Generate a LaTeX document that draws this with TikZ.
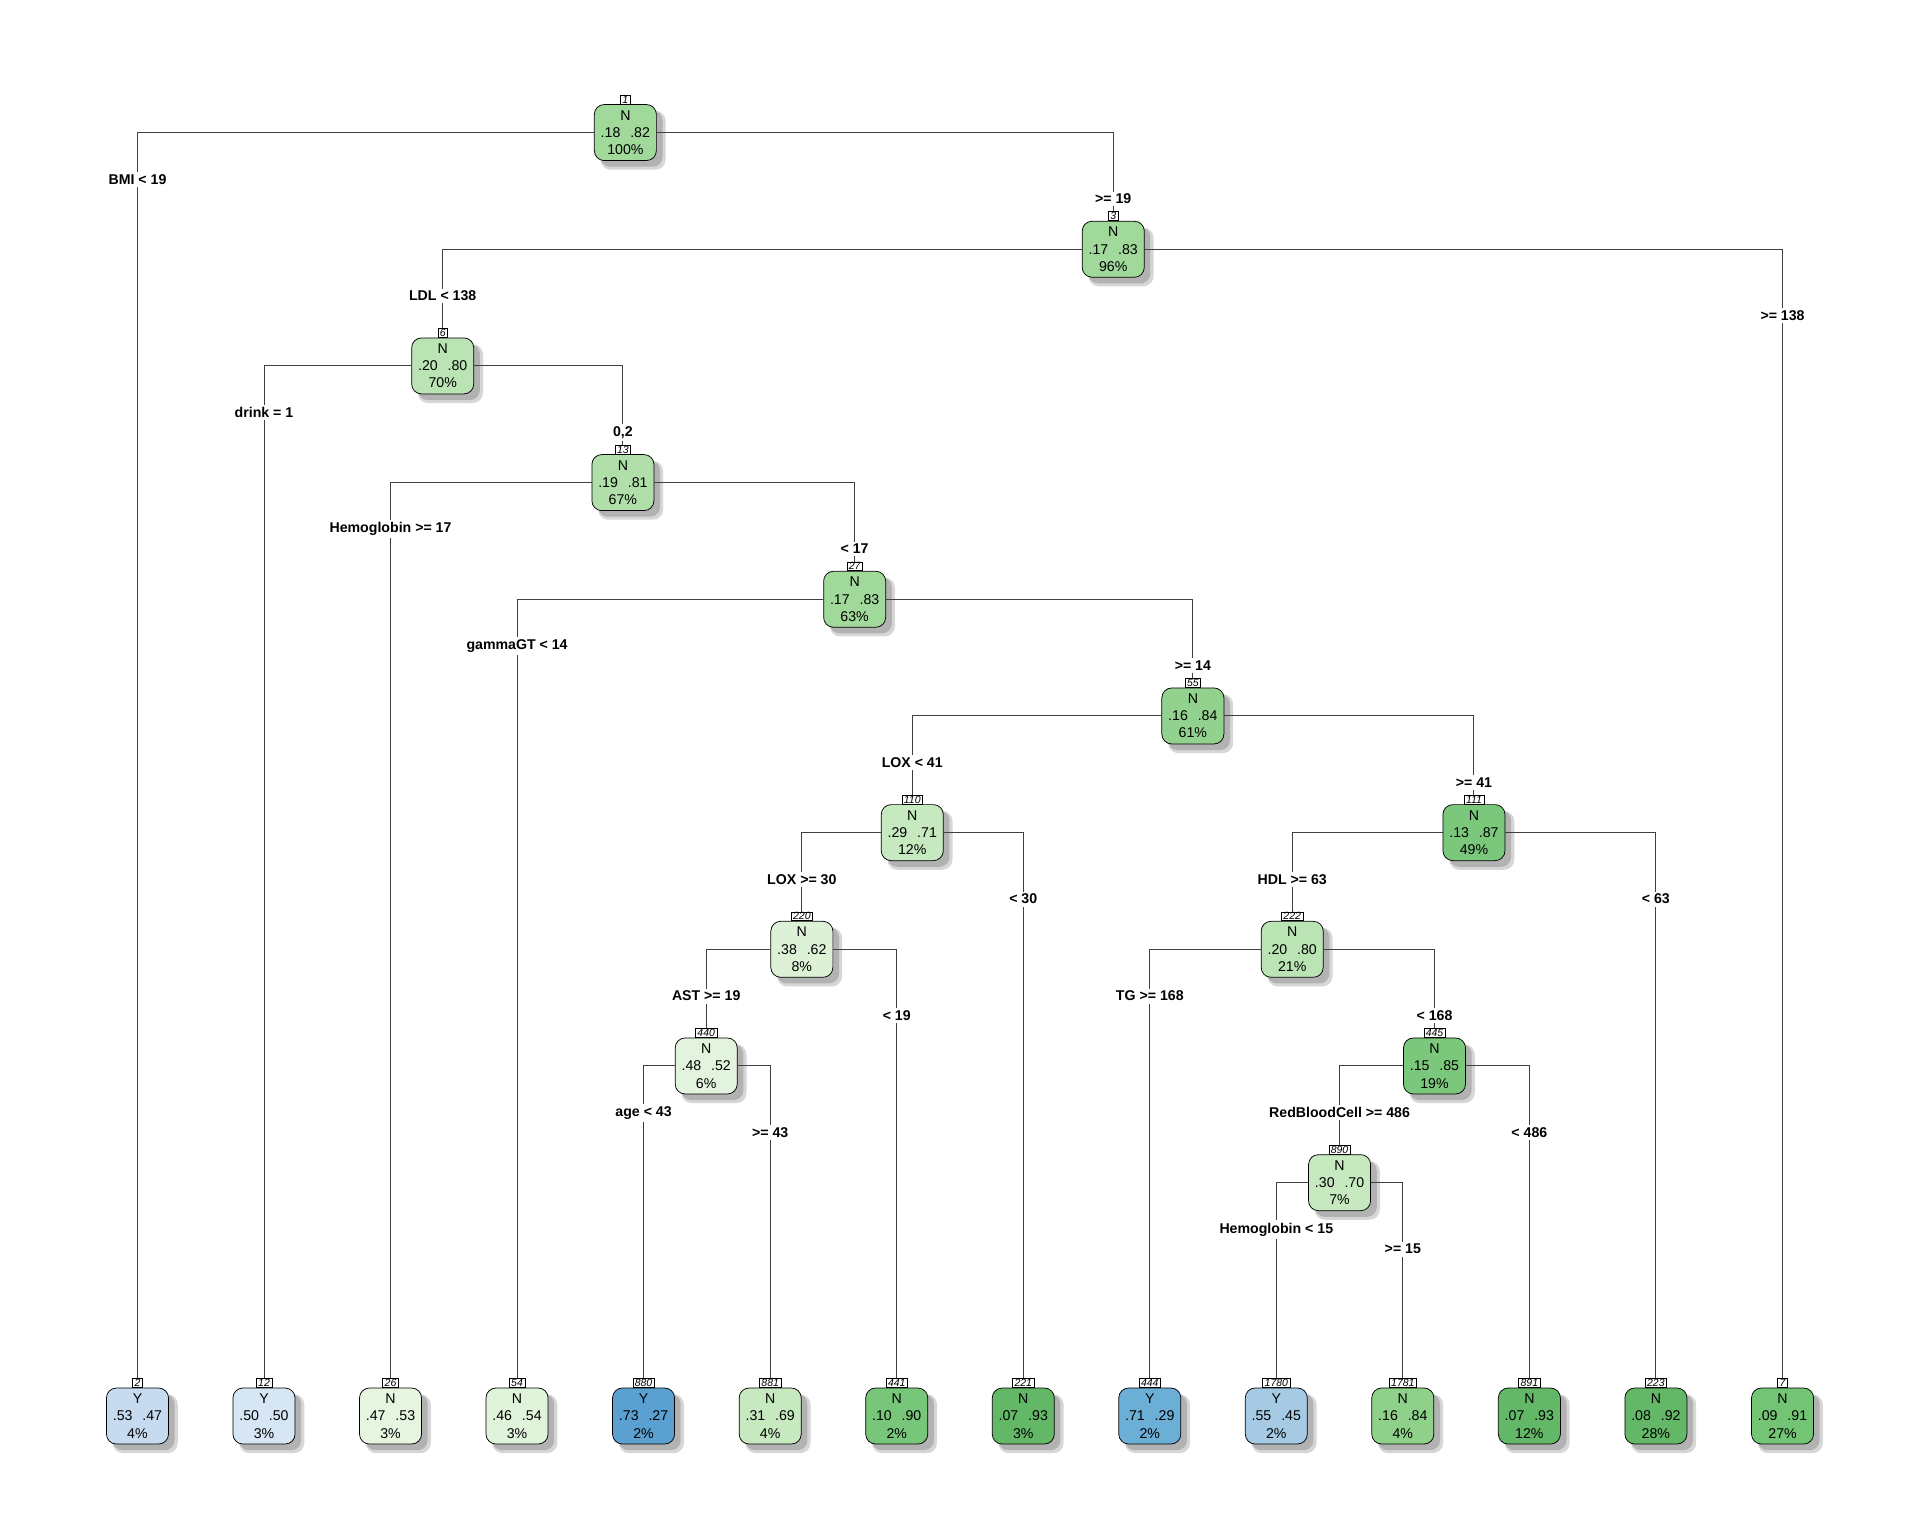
\documentclass[tikz,border=0pt]{standalone}
\usepackage{fontspec}
\setmainfont{Liberation Sans}
\usetikzlibrary{shadows}

% node colours (blue = Y, green = N)
\definecolor{yA}{HTML}{C6DBEF}
\definecolor{yB}{HTML}{D6E6F4}
\definecolor{yC}{HTML}{5AA0D0}
\definecolor{yD}{HTML}{6BAED6}
\definecolor{yE}{HTML}{A6CAE4}
\definecolor{gA}{HTML}{E5F5E0}
\definecolor{gB}{HTML}{E0F3DB}
\definecolor{gC}{HTML}{C7E9C0}
\definecolor{gD}{HTML}{78C679}
\definecolor{gE}{HTML}{63B867}
\definecolor{gF}{HTML}{8FD18A}
\definecolor{gG}{HTML}{74C476}
\definecolor{gH}{HTML}{A1D99B}
\definecolor{gI}{HTML}{BAE4B3}
\definecolor{gJ}{HTML}{B0DFA9}
\definecolor{gK}{HTML}{92D28E}
\definecolor{gL}{HTML}{7BC87C}
\definecolor{gM}{HTML}{DDF1D7}
\definecolor{gN}{HTML}{E3F4DE}

\newcommand{\pgap}{\hspace{0.7em}}

\tikzset{
  nodebox/.style={draw=black, line width=0.6pt, rounded corners=8pt,
    minimum width=50.4pt, minimum height=45.5pt, inner sep=1pt, align=center,
    font=\fontsize{11.5}{14}\selectfont,
    drop shadow={shadow xshift=6pt, shadow yshift=-6pt, shadow scale=1.05, fill=black!16, opacity=1},
    drop shadow={shadow xshift=5pt, shadow yshift=-5pt, fill=black!30, opacity=1}},
  tagbox/.style={draw=black, fill=white, line width=0.4pt, anchor=south,
    inner xsep=1.6pt, inner ysep=0.6pt, font=\fontsize{8.5}{8.5}\selectfont\itshape},
  branch/.style={draw=black!75, line width=0.8pt},
  lbl/.style={fill=white, inner sep=2pt, font=\fontsize{11.5}{13}\selectfont\bfseries}
}

\begin{document}
\begin{tikzpicture}[x=1pt, y=-1pt]
\fill[white] (0,0) rectangle (1560,1248);
\useasboundingbox (0,0) rectangle (1560,1248);

% split nodes
\node[nodebox, fill=gH] (n1) at (508.1,107.7) {N\\.18\pgap.82\\100\%};
\node[nodebox, fill=gH] (n3) at (904.5,202.5) {N\\.17\pgap.83\\96\%};
\node[nodebox, fill=gI] (n6) at (359.7,297.3) {N\\.20\pgap.80\\70\%};
\node[nodebox, fill=gJ] (n13) at (506.1,392.1) {N\\.19\pgap.81\\67\%};
\node[nodebox, fill=gH] (n27) at (694.4,486.9) {N\\.17\pgap.83\\63\%};
\node[nodebox, fill=gK] (n55) at (969.2,581.7) {N\\.16\pgap.84\\61\%};
\node[nodebox, fill=gC] (n110) at (741.2,676.5) {N\\.29\pgap.71\\12\%};
\node[nodebox, fill=gL] (n111) at (1197.6,676.5) {N\\.13\pgap.87\\49\%};
\node[nodebox, fill=gM] (n220) at (651.5,771.3) {N\\.38\pgap.62\\8\%};
\node[nodebox, fill=gI] (n222) at (1049.9,771.3) {N\\.20\pgap.80\\21\%};
\node[nodebox, fill=gN] (n440) at (573.8,866.1) {N\\.48\pgap.52\\6\%};
\node[nodebox, fill=gL] (n445) at (1165.5,866.1) {N\\.15\pgap.85\\19\%};
\node[nodebox, fill=gC] (n890) at (1088.4,960.9) {N\\.30\pgap.70\\7\%};

% leaves
\node[nodebox, fill=yA] (n2) at (111.7,1150.5) {Y\\.53\pgap.47\\4\%};
\node[nodebox, fill=yB] (n12) at (214.5,1150.5) {Y\\.50\pgap.50\\3\%};
\node[nodebox, fill=gA] (n26) at (317.3,1150.5) {N\\.47\pgap.53\\3\%};
\node[nodebox, fill=gB] (n54) at (420.1,1150.5) {N\\.46\pgap.54\\3\%};
\node[nodebox, fill=yC] (n880) at (522.9,1150.5) {Y\\.73\pgap.27\\2\%};
\node[nodebox, fill=gC] (n881) at (625.8,1150.5) {N\\.31\pgap.69\\4\%};
\node[nodebox, fill=gD] (n441) at (728.6,1150.5) {N\\.10\pgap.90\\2\%};
\node[nodebox, fill=gE] (n221) at (831.4,1150.5) {N\\.07\pgap.93\\3\%};
\node[nodebox, fill=yD] (n444) at (934.2,1150.5) {Y\\.71\pgap.29\\2\%};
\node[nodebox, fill=yE] (n1780) at (1037.0,1150.5) {Y\\.55\pgap.45\\2\%};
\node[nodebox, fill=gF] (n1781) at (1139.8,1150.5) {N\\.16\pgap.84\\4\%};
\node[nodebox, fill=gE] (n891) at (1242.6,1150.5) {N\\.07\pgap.93\\12\%};
\node[nodebox, fill=gE] (n223) at (1345.4,1150.5) {N\\.08\pgap.92\\28\%};
\node[nodebox, fill=gG] (n7) at (1448.3,1150.5) {N\\.09\pgap.91\\27\%};

% node numbers
\foreach \k in {1,3,6,13,27,55,110,111,220,222,440,445,890,
                2,12,26,54,880,881,441,221,444,1780,1781,891,223,7}
  \node[tagbox] (t\k) at (n\k.north) {\k};

% branches
\draw[branch] (n1.west) -| (t2.north);
\draw[branch] (n1.east) -| (t3.north);
\draw[branch] (n3.west) -| (t6.north);
\draw[branch] (n3.east) -| (t7.north);
\draw[branch] (n6.west) -| (t12.north);
\draw[branch] (n6.east) -| (t13.north);
\draw[branch] (n13.west) -| (t26.north);
\draw[branch] (n13.east) -| (t27.north);
\draw[branch] (n27.west) -| (t54.north);
\draw[branch] (n27.east) -| (t55.north);
\draw[branch] (n55.west) -| (t110.north);
\draw[branch] (n55.east) -| (t111.north);
\draw[branch] (n110.west) -| (t220.north);
\draw[branch] (n110.east) -| (t221.north);
\draw[branch] (n220.west) -| (t440.north);
\draw[branch] (n220.east) -| (t441.north);
\draw[branch] (n440.west) -| (t880.north);
\draw[branch] (n440.east) -| (t881.north);
\draw[branch] (n111.west) -| (t222.north);
\draw[branch] (n111.east) -| (t223.north);
\draw[branch] (n222.west) -| (t444.north);
\draw[branch] (n222.east) -| (t445.north);
\draw[branch] (n445.west) -| (t890.north);
\draw[branch] (n445.east) -| (t891.north);
\draw[branch] (n890.west) -| (t1780.north);
\draw[branch] (n890.east) -| (t1781.north);

% split labels
\node[lbl] (l2) at (111.7,145.7) {BMI < 19};
\node[lbl] (l3) at (904.5,161.7) {>= 19};
\node[lbl] (l6) at (359.7,240.5) {LDL < 138};
\node[lbl] (l7) at (1448.3,256.5) {>= 138};
\node[lbl] (l12) at (214.5,335.3) {drink = 1};
\node[lbl] (l13) at (506.1,351.3) {0,2};
\node[lbl] (l26) at (317.3,430.1) {Hemoglobin >= 17};
\node[lbl] (l27) at (694.4,446.1) {< 17};
\node[lbl] (l54) at (420.1,524.9) {gammaGT < 14};
\node[lbl] (l55) at (969.2,540.9) {>= 14};
\node[lbl] (l110) at (741.2,619.7) {LOX < 41};
\node[lbl] (l111) at (1197.6,635.7) {>= 41};
\node[lbl] (l220) at (651.5,714.5) {LOX >= 30};
\node[lbl] (l221) at (831.4,730.5) {< 30};
\node[lbl] (l222) at (1049.9,714.5) {HDL >= 63};
\node[lbl] (l223) at (1345.4,730.5) {< 63};
\node[lbl] (l440) at (573.8,809.3) {AST >= 19};
\node[lbl] (l441) at (728.6,825.3) {< 19};
\node[lbl] (l444) at (934.2,809.3) {TG >= 168};
\node[lbl] (l445) at (1165.5,825.3) {< 168};
\node[lbl] (l880) at (522.9,904.1) {age < 43};
\node[lbl] (l881) at (625.8,920.1) {>= 43};
\node[lbl] (l890) at (1088.4,904.1) {RedBloodCell >= 486};
\node[lbl] (l891) at (1242.6,920.1) {< 486};
\node[lbl] (l1780) at (1037.0,998.9) {Hemoglobin < 15};
\node[lbl] (l1781) at (1139.8,1014.9) {>= 15};
\end{tikzpicture}
\end{document}
